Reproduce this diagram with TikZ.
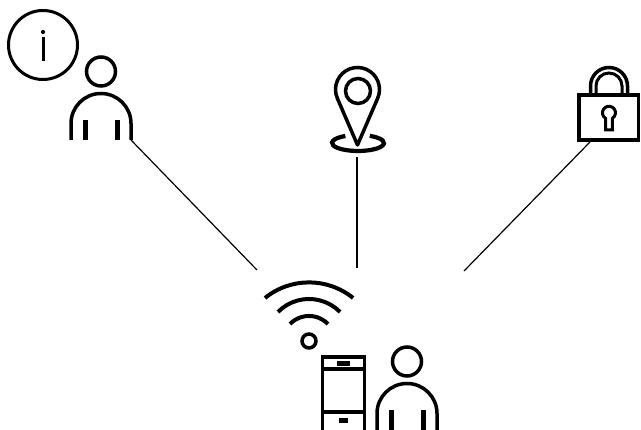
\documentclass[tikz,border=0pt]{standalone}
\usepackage{tikz}
\usepackage{xcolor}

\tikzset{
  icon/.style={draw=black,line width=3.5pt,fill=none},
  bar/.style={fill=black,draw=none},
  link/.style={draw=black,line width=1.2pt},
  personicon/.pic={
    \draw[icon] (0,0) circle (14.5);
    \draw[icon] (-30,-68.5) -- (-30,-52) arc[start angle=180,end angle=0,radius=30] -- (30,-68.5);
    \fill[bar] (-18,-69) rectangle (-12.9,-49);
    \fill[bar] (14,-69) rectangle (19.1,-49);
  }
}

\begin{document}
\begin{tikzpicture}[x=1pt,y=1pt]
    \useasboundingbox (0,0) rectangle (641,430);
    \clip (0,0) rectangle (641,430);

    % info bubble
    \draw[icon,line width=3pt] (43,385) circle (34.5);
    \draw[line width=3pt] (43,393) -- (43,369);
    \fill (43,398) circle (2.1);

    % left person
    \pic at (101,358.5) {personicon};

    % pin
    \coordinate (pincentre) at (357.5,340.5);
    \draw[icon,line join=round] (357.5,285) -- ([shift={(-23.8:22)}]pincentre) arc[start angle=-23.8,end angle=203.8,radius=22] -- cycle;
    \draw[icon] (358,339) circle (12.5);
    \draw[icon,line width=4.2pt] ([shift={(63:26 and 8)}]358,287) arc[start angle=63,end angle=-241,x radius=26,y radius=8];

    % lock
    \draw[icon] (579,290) rectangle (638.5,335);
    \draw[icon] (590.5,337) -- (590.5,344) arc[start angle=180,end angle=0,radius=18.5] -- (627.5,337);
    \draw[icon,line width=3pt] (596,337) -- (596,344) arc[start angle=180,end angle=0,radius=13] -- (622,337);
    \draw[icon,line width=3pt] (605.5,300) -- (605.5,311.7) arc[start angle=238,end angle=-58,radius=6.5] -- (612.5,300) -- cycle;

    % wifi
    \draw[icon,line width=4pt] (265,132) arc[start angle=129,end angle=51,radius=70];
    \draw[icon,line width=4pt] (278,118) arc[start angle=135.5,end angle=44.5,radius=43.5];
    \draw[icon,line width=4pt] (290,106) arc[start angle=135.8,end angle=44.2,radius=26.5];
    \draw[icon] (309,89) circle (7);

    % phone
    \draw[icon] (322.5,-5) rectangle (364.5,73);
    \draw[icon] (322.5,61) -- (364.5,61);
    \draw[icon] (322.5,18) -- (364.5,18);
    \fill[bar] (337,64) rectangle (350,69);
    \fill[bar] (339,7) rectangle (348,12);

    % lower person
    \pic at (407,68.5) {personicon};

    % links
    \coordinate (personend) at (131,290);
    \coordinate (personhub) at (257,160);
    \coordinate (pinend) at (357,273);
    \coordinate (pinhub) at (357,162);
    \coordinate (lockend) at (590,288);
    \coordinate (lockhub) at (464,159);
    \draw[link] (personend) -- (personhub);
    \draw[link] (pinend) -- (pinhub);
    \draw[link] (lockend) -- (lockhub);
\end{tikzpicture}
\end{document}
